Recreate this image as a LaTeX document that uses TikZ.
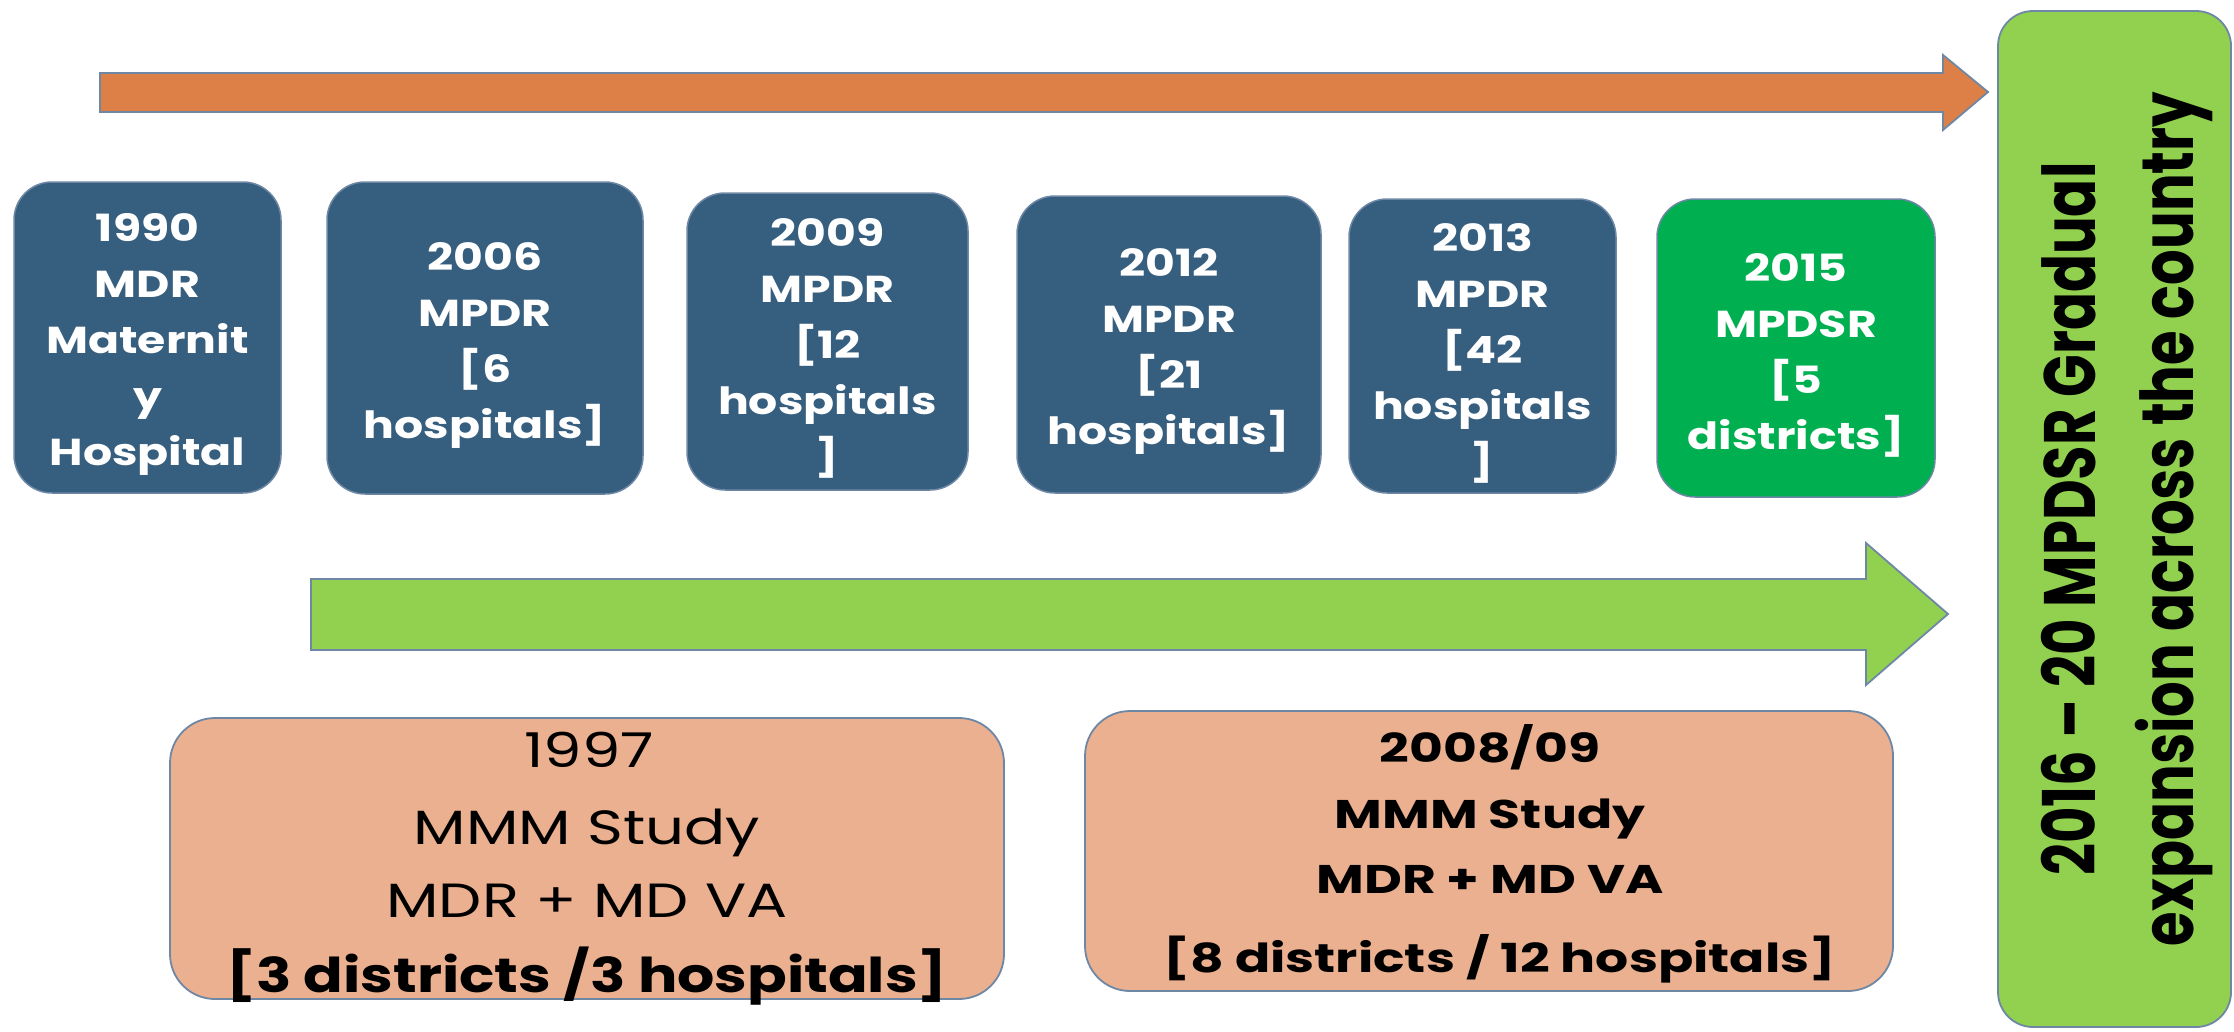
\documentclass[tikz,border=0pt]{standalone}
\usepackage{fontspec}
\setmainfont{Poppins}
\newfontfamily\bluefont[FakeStretch=1.22]{Poppins}
\newfontfamily\salonefont[FakeStretch=1.27]{Poppins}
\newfontfamily\saltwofont[FakeStretch=1.3]{Poppins}
\definecolor{orfill}{RGB}{221,128,72}
\definecolor{boxblue}{RGB}{54,94,126}
\definecolor{brgreen}{RGB}{0,176,80}
\definecolor{ltgreen}{RGB}{146,208,80}
\definecolor{salmon}{RGB}{234,176,143}
\definecolor{outl}{RGB}{110,135,165}
\begin{document}
\begin{tikzpicture}[x=1pt,y=-1pt,
  blbox/.style={rectangle, rounded corners=38pt, fill=boxblue, draw=outl, line width=1.5pt, inner sep=0pt},
  bltext/.style={text=white, align=center, inner sep=0pt,
    font=\bluefont\bfseries\fontsize{37.5}{56}\selectfont},
  salbox/.style={rectangle, rounded corners=45pt, fill=salmon, draw=outl, line width=1.8pt, inner sep=0pt},
  salone/.style={anchor=base, inner sep=0pt, font=\salonefont\fontsize{48}{60}\selectfont},
  saltwo/.style={anchor=base, inner sep=0pt, font=\saltwofont\bfseries\fontsize{40}{50}\selectfont},
  bigarrow/.style={draw=outl, line width=1.8pt, line join=miter}
]
\useasboundingbox (0,0) rectangle (2234,1031);

% top orange arrow
\draw[bigarrow, fill=orfill] (100,73) -- (1943,73) -- (1943,55) -- (1988,92) -- (1943,130) -- (1943,112) -- (100,112) -- cycle;

% blue boxes
\node[blbox, minimum width=267pt, minimum height=311pt] (b1990) at (147.5,337.5) {};
\node[bltext] (t1990) at ([yshift=-7pt]b1990.center) {1990\\MDR\\Maternit\\y\\Hospital};
\node[blbox, minimum width=316pt, minimum height=312pt] (b2006) at (485,338) {};
\node[bltext] (t2006) at ([yshift=-7pt]b2006.center) {2006\\MPDR\\{[}6\\hospitals]};
\node[blbox, minimum width=281pt, minimum height=297pt] (b2009) at (827.5,341.5) {};
\node[bltext] (t2009) at ([yshift=-7pt]b2009.center) {2009\\MPDR\\{[}12\\hospitals\\]};
\node[blbox, minimum width=304pt, minimum height=297pt] (b2012) at (1169,344.5) {};
\node[bltext] (t2012) at ([yshift=-7pt]b2012.center) {2012\\MPDR\\{[}21\\hospitals]};
\node[blbox, minimum width=267pt, minimum height=294pt] (b2013) at (1482.5,346) {};
\node[bltext] (t2013) at ([yshift=-7pt]b2013.center) {2013\\MPDR\\{[}42\\hospitals\\]};
\node[blbox, fill=brgreen, minimum width=278pt, minimum height=298pt] (b2015) at (1796,348) {};
\node[bltext] (t2015) at ([yshift=-7pt]b2015.center) {2015\\MPDSR\\{[}5\\districts]};

% green arrow
\draw[bigarrow, fill=ltgreen] (311,579) -- (1866,579) -- (1866,543) -- (1948,614) -- (1866,685) -- (1866,650) -- (311,650) -- cycle;

% salmon boxes
\node[salbox, minimum width=834pt, minimum height=281pt] (s1997) at (587,858.5) {};
\node[salone] (s1997a) at (589,767) {1997};
\node[salone] (s1997b) at (587,844) {MMM Study};
\node[salone] (s1997c) at (587,917) {MDR + MD VA};
\node[salone, xscale=0.96, font=\salonefont\bfseries\fontsize{48}{60}\selectfont] (s1997d) at (587,992) {[3 districts /3 hospitals]};

\node[salbox, minimum width=808pt, minimum height=280pt] (s2008) at (1489,851) {};
\node[saltwo] (s2008a) at (1490,762) {2008/09};
\node[saltwo] (s2008b) at (1490,828) {MMM Study};
\node[saltwo] (s2008c) at (1490,893) {MDR + MD VA};
\node[saltwo] (s2008d) at (1500,972) {[8 districts / 12 hospitals]};

% right vertical box
\node[rectangle, rounded corners=35pt, fill=ltgreen, draw=outl, line width=1.8pt,
  minimum width=233pt, minimum height=1016pt, inner sep=0pt] (final) at (2114.5,519) {};
\node[rotate=90, yscale=1.3, align=center, inner sep=0pt,
  font=\bfseries\fontsize{56}{75}\selectfont] (finaltext) at (2127,519)
  {2016 – 20 MPDSR Gradual\\expansion across the country};
\end{tikzpicture}
\end{document}
